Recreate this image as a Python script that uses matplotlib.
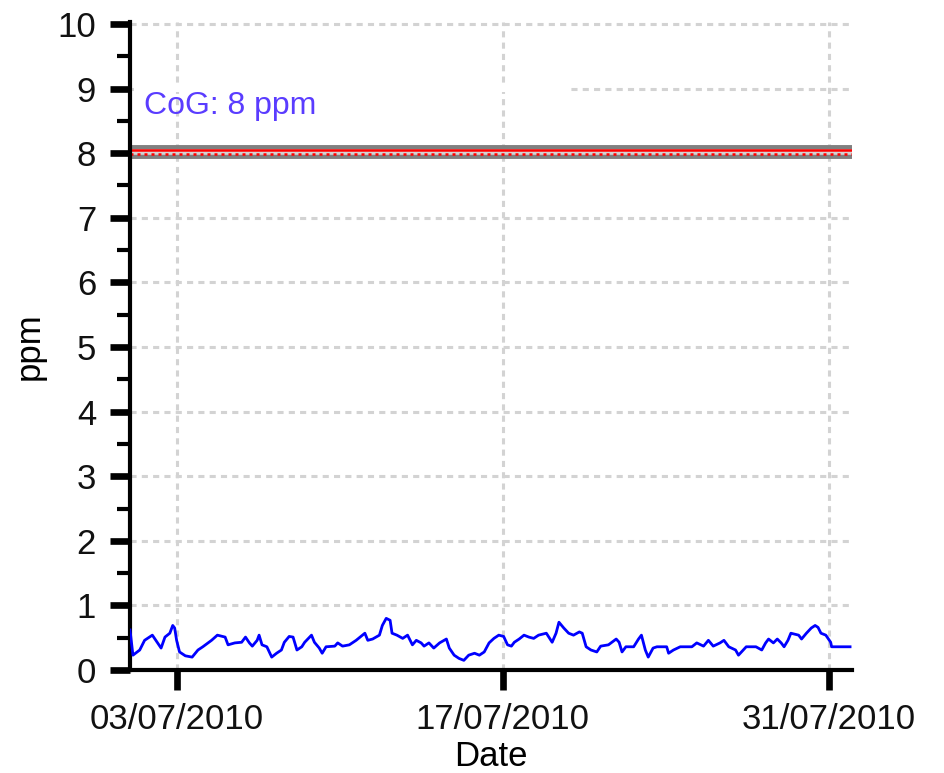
import datetime as dt

import numpy as np
import matplotlib
matplotlib.use("Agg")
import matplotlib.pyplot as plt
import matplotlib.dates as mdates
import matplotlib.transforms as mtransforms
from matplotlib.patches import Rectangle

plt.rcParams["font.family"] = ["Liberation Sans", "DejaVu Sans"]

# readings: hours after 01/07/2010 00:00 and concentration (ppm)
start = dt.datetime(2010, 7, 1)
hours = [
    0, 3, 10, 15, 23, 28, 32, 36, 41, 44, 46, 48, 51, 57, 64, 70, 75, 84, 90,
    98, 101, 108, 115, 119, 123, 126, 131, 133, 136, 141, 146, 151, 156, 159,
    164, 168, 172, 177, 180, 187, 190, 195, 198, 202, 211, 214, 219, 226, 233,
    242, 245, 250, 257, 260, 264, 268, 270, 275, 281, 286, 291, 295, 300, 303,
    308, 313, 319, 326, 329, 334, 339, 344, 349, 355, 360, 365, 370, 375, 380,
    385, 389, 393, 396, 401, 406, 411, 416, 421, 429, 435, 439, 442, 447, 452,
    457, 463, 466, 470, 475, 481, 485, 493, 501, 504, 507, 511, 519, 524, 527,
    531, 534, 539, 543, 553, 555, 560, 567, 579, 584, 591, 596, 601, 608, 612,
    617, 624, 627, 632, 635, 645, 651, 655, 658, 663, 667, 671, 674, 678, 681,
    689, 692, 697, 702, 706, 709, 712, 717, 722, 723, 730, 742,
]
ppm = [
    0.62, 0.23, 0.31, 0.46, 0.54, 0.43, 0.34, 0.51, 0.57, 0.69, 0.65, 0.46,
    0.28, 0.22, 0.20, 0.31, 0.36, 0.46, 0.54, 0.51, 0.39, 0.42, 0.43, 0.51,
    0.42, 0.37, 0.46, 0.54, 0.39, 0.36, 0.20, 0.26, 0.31, 0.43, 0.52, 0.51,
    0.31, 0.36, 0.43, 0.54, 0.43, 0.34, 0.26, 0.36, 0.37, 0.42, 0.37, 0.39,
    0.46, 0.57, 0.46, 0.48, 0.54, 0.69, 0.80, 0.77, 0.57, 0.54, 0.49, 0.54,
    0.39, 0.46, 0.42, 0.37, 0.42, 0.34, 0.42, 0.48, 0.34, 0.23, 0.18, 0.15,
    0.23, 0.26, 0.23, 0.28, 0.42, 0.49, 0.54, 0.52, 0.39, 0.37, 0.43, 0.48,
    0.54, 0.51, 0.49, 0.54, 0.57, 0.43, 0.57, 0.74, 0.65, 0.57, 0.54, 0.59,
    0.57, 0.36, 0.31, 0.28, 0.37, 0.39, 0.48, 0.43, 0.28, 0.36, 0.36, 0.48,
    0.54, 0.31, 0.20, 0.34, 0.36, 0.36, 0.26, 0.31, 0.36, 0.36, 0.42, 0.37,
    0.46, 0.37, 0.42, 0.46, 0.36, 0.31, 0.23, 0.31, 0.36, 0.36, 0.31, 0.42,
    0.48, 0.42, 0.48, 0.42, 0.36, 0.46, 0.57, 0.54, 0.48, 0.57, 0.65, 0.69,
    0.66, 0.57, 0.54, 0.43, 0.36, 0.36, 0.36,
]
cog_level = 8
cog_label = "CoG: 8 ppm"
tick_dates = [dt.datetime(2010, 7, 3), dt.datetime(2010, 7, 17), dt.datetime(2010, 7, 31)]
x_range = (dt.datetime(2010, 7, 1), dt.datetime(2010, 8, 1))

dates = [start + dt.timedelta(hours=h) for h in hours]

fig = plt.figure(figsize=(9.45, 7.73), dpi=100)
ax = fig.add_axes([0.1376, 0.1332, 0.7640, 0.8383])

ax.plot(dates, ppm, color="#0000ff", linewidth=2.0, zorder=3)

# CoG reference line: grey band with red centre
ax.axhline(cog_level + 0.02, color="#808080", linewidth=10, zorder=2)
ax.axhline(cog_level + 0.02, color="#d3d3d3", linewidth=4, zorder=2.1)
ax.axhline(cog_level + 0.045, color="red", linewidth=1.8, zorder=2.2)
ax.axhline(cog_level - 0.01, color="red", linewidth=1.8, dashes=(1.2, 1.6), zorder=2.2)

ax.set_xlim(*x_range)
ax.set_ylim(0, 10.03)
ax.set_xticks(tick_dates)
ax.xaxis.set_major_formatter(mdates.DateFormatter("%d/%m/%Y"))
ax.set_yticks(np.arange(0, 11, 1))
ax.set_yticks(np.arange(0.5, 10, 1), minor=True)

ax.set_axisbelow(True)
ax.grid(True, which="major", color="#d3d3d3", linewidth=2.2, dashes=(2, 1.7))

# label box hides the left part of the 9 gridline
trans = mtransforms.blended_transform_factory(ax.transAxes, ax.transData)
ax.add_patch(Rectangle((0.005, 8.95), 0.60, 0.1, transform=trans,
                       facecolor="white", edgecolor="none", zorder=1))
ax.text(0.02, 8.73, cog_label, transform=trans, color="#5a3cff",
        fontsize=23, va="center", ha="left", zorder=4)

for side in ["top", "right"]:
    ax.spines[side].set_visible(False)
ax.spines["left"].set_linewidth(3)
ax.spines["bottom"].set_linewidth(3)

ax.tick_params(axis="both", which="major", length=14.5, width=4.8,
               labelsize=25, color="black", labelcolor="#111111")
ax.tick_params(axis="y", which="major", pad=10)
ax.tick_params(axis="x", which="major", pad=9)
ax.tick_params(axis="y", which="minor", length=9.5, width=3, color="black")

ax.set_xlabel("Date", fontsize=25, labelpad=3)
ax.set_ylabel("ppm", fontsize=25, labelpad=8)

fig.savefig("out.png", dpi=100)
